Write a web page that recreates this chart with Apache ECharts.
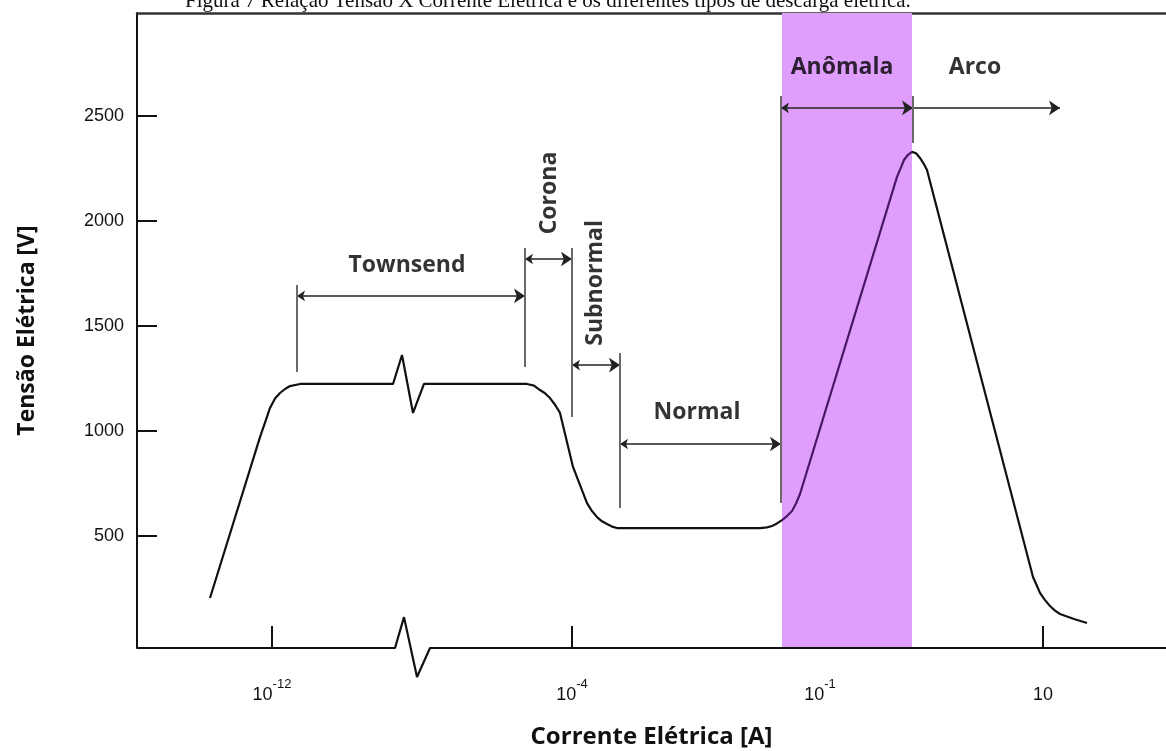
<!DOCTYPE html>
<html><head><meta charset="utf-8">
<script src="https://cdn.jsdelivr.net/npm/echarts@6/dist/echarts.min.js"></script>
<style>html,body{margin:0;padding:0;background:#fff}#c{width:1166px;height:751px}</style>
</head><body><div id="c"></div>
<script>
// x is a position along the (broken, non-uniform) current axis; y is voltage in V
const xTickPos = [135, 435, 683, 906];
const xTickBase = ['10', '10', '10', '10'];
const xTickExp = ['-12', '-4', '-1', ''];
const yTicks = [500, 1000, 1500, 2000, 2500];

const curveX = [73, 123, 128, 133, 138, 143, 148, 153, 163, 256, 265, 276, 287, 390, 397, 403, 408, 413, 418, 423, 436, 450, 455, 460, 465, 470, 475, 480, 623, 630, 635, 640, 645, 650, 655, 659, 663, 760, 764, 767, 771, 775, 779, 783, 787, 790, 803, 896, 900, 903, 908, 913, 918, 923, 937, 950];
const curveV = [205, 971, 1040, 1110, 1155, 1181, 1200, 1214, 1224, 1224, 1362, 1086, 1224, 1224, 1216, 1195, 1180, 1157, 1125, 1086, 829, 657, 619, 590, 570, 557, 545, 538, 538, 541, 548, 560, 576, 595, 619, 655, 700, 2210, 2255, 2290, 2315, 2329, 2322, 2300, 2270, 2243, 2005, 305, 262, 229, 195, 167, 145, 129, 105, 86];

const axisX = [0, 258, 267, 280, 293, 1029];
const axisV = [-33, -33, 114, -171, -33, -33];

const regionNames = ['Townsend', 'Corona', 'Subnormal', 'Normal', 'Anômala', 'Arco'];
const regionStart = [160, 388, 435, 483, 644, 776];
const regionEnd = [388, 435, 483, 644, 776, 923];
const arrowV = [1643, 1819, 1314, 938, 2538, 2538];
const boundX = [160, 388, 435, 483, 644, 776];
const boundTop = [1695, 1871, 1871, 1371, 2595, 2595];
const boundBottom = [1281, 1305, 1067, 633, 657, 2371];
const labelX = [270, 412, 458, 560, 705, 838];
const labelV = [1790, 2133, 1705, 1086, 2729, 2729];
const labelRotate = [0, 90, 90, 0, 0, 0];

const bandStart = 645, bandEnd = 775;
const xMin = 0, xMax = 1029, yMin = -33, yMax = 2990;

const chart = echarts.init(document.getElementById('c'), null, {renderer: 'canvas'});

const boundLines = boundX.map((x, i) => [{coord: [x, boundTop[i]]}, {coord: [x, boundBottom[i]]}]);
const arrowLines = regionNames.map((n, i) => ({
  symbol: i === 5 ? ['none', 'arrow'] : ['arrow', 'arrow'],
  coords: [[regionStart[i], arrowV[i]], [regionEnd[i], arrowV[i]]]
}));

const option = {
  animation: false,
  backgroundColor: '#fff',
  graphic: [{
    type: 'text', left: 185, top: -9, z: 100,
    style: {text: 'Figura 7 Relação Tensão X Corrente Elétrica e os diferentes tipos de descarga elétrica.',
      font: '21px "Liberation Serif"', fill: '#111'}
  }],
  grid: {left: 137, right: 0, top: 13, bottom: 103, containLabel: false, outerBoundsMode: 'none'},
  xAxis: [{
    type: 'value', min: xMin, max: xMax, position: 'bottom',
    axisLine: {show: true, onZero: false, lineStyle: {color: 'rgba(0,0,0,0)', width: 0}},
    splitLine: {show: false},
    axisTick: {show: true, inside: true, length: 22, customValues: xTickPos, lineStyle: {color: '#111', width: 2}},
    axisLabel: {
      customValues: xTickPos, margin: 30, color: '#111',
      formatter: v => {
        const i = xTickPos.indexOf(v);
        return i < 0 ? '' : '{b|' + xTickBase[i] + '}' + '{s|' + (xTickExp[i] || '\u200b') + '}';
      },
      rich: {
        b: {fontFamily: 'Liberation Sans', fontSize: 18, color: '#111'},
        s: {fontFamily: 'Liberation Sans', fontSize: 13, color: '#111', padding: [0, 0, 22, 0]}
      }
    },
    name: 'Corrente Elétrica [A]', nameLocation: 'middle', nameGap: 77,
    nameTextStyle: {fontFamily: 'Open Sans', fontWeight: 'bold', fontSize: 24, color: '#111'}
  }, {
    type: 'value', min: xMin, max: xMax, position: 'top',
    axisLine: {show: true, onZero: false, lineStyle: {color: '#333', width: 2.5}},
    axisTick: {show: false}, axisLabel: {show: false}, splitLine: {show: false}
  }],
  yAxis: {
    type: 'value', min: yMin, max: yMax,
    axisLine: {show: true, onZero: false, lineStyle: {color: '#111', width: 2}},
    splitLine: {show: false},
    axisTick: {show: true, inside: true, length: 20, customValues: yTicks, lineStyle: {color: '#111', width: 2}},
    axisLabel: {customValues: yTicks, margin: 13, fontFamily: 'Liberation Sans', fontSize: 18, color: '#111', formatter: v => String(v)},
    name: 'Tensão Elétrica [V]', nameLocation: 'middle', nameGap: 98,
    nameTextStyle: {fontFamily: 'Open Sans', fontWeight: 'bold', fontSize: 23, color: '#111'}
  },
  visualMap: {
    show: false, type: 'piecewise', seriesIndex: 0, dimension: 0,
    pieces: [{lt: bandStart, color: '#111'}, {gte: bandStart, lte: bandEnd, color: '#4a1766'}, {gt: bandEnd, color: '#111'}]
  },
  series: [
    {
      type: 'line', name: 'curve', z: 2, silent: true,
      data: curveX.map((x, i) => [x, curveV[i]]),
      symbol: 'none', smooth: false,
      lineStyle: {width: 2.2}
    },
    {
      type: 'line', name: 'brackets', z: 2, silent: true, data: [],
      markLine: {
        silent: true, animation: false, symbol: ['none', 'none'],
        label: {show: false},
        lineStyle: {color: '#6a6a6a', width: 2, type: 'solid'},
        emphasis: {disabled: true},
        data: boundLines
      }
    },
    {
      type: 'lines', name: 'arrows', coordinateSystem: 'cartesian2d', z: 2, silent: true,
      symbolSize: [8, 11],
      lineStyle: {color: '#222', width: 1.6, opacity: 1},
      data: arrowLines.map(a => ({coords: a.coords, symbol: a.symbol}))
    },
    {
      type: 'line', name: 'band', z: 1, silent: true, data: [],
      markArea: {
        silent: true,
        itemStyle: {color: '#df9efc'},
        emphasis: {disabled: true},
        data: [[{coord: [bandStart, yMin]}, {coord: [bandEnd, yMax]}]]
      }
    },
    {
      type: 'line', name: 'axis', z: 6, silent: true, clip: false,
      data: axisX.map((x, i) => [x, axisV[i]]),
      symbol: 'none', lineStyle: {color: '#111', width: 2.2}
    },
    {
      type: 'scatter', name: 'labels', z: 10, silent: true, symbolSize: 0,
      data: regionNames.map((n, i) => ({name: n, value: [labelX[i], labelV[i]], label: {rotate: labelRotate[i]}})),
      label: {show: true, position: 'inside', formatter: '{b}', fontFamily: 'Open Sans', fontWeight: 'bold', fontSize: 23, color: '#000'}
    }
  ]
};
chart.setOption(option);
</script></body></html>
